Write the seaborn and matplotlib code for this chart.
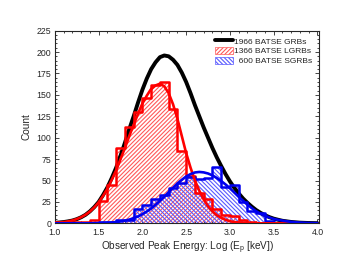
import numpy as np
import pandas as pd
import matplotlib
matplotlib.use("Agg")
import matplotlib.pyplot as plt
from matplotlib.lines import Line2D
from matplotlib.patches import Patch
from matplotlib.ticker import MultipleLocator, FormatStrFormatter
import seaborn as sns

# ---------------- data ----------------
bin_width = 0.1
red_start = 1.0
red_counts = [2, 1, 2, 1, 4, 26, 45, 88, 113, 130, 146, 161, 165, 133, 84, 55, 36, 28, 17, 10, 8, 4, 1]
blue_start = 1.5
blue_counts = [1, 1, 4, 4, 17, 22, 29, 33, 41, 47, 54, 52, 53, 66, 43, 45, 25, 14, 12, 3]

curve_x = [1.0, 1.05, 1.1, 1.15, 1.2, 1.25, 1.3, 1.35, 1.4, 1.45, 1.5, 1.55, 1.6, 1.65, 1.7,
           1.75, 1.8, 1.85, 1.9, 1.95, 2.0, 2.05, 2.1, 2.15, 2.2, 2.25, 2.3, 2.35, 2.4, 2.45,
           2.5, 2.55, 2.6, 2.65, 2.7, 2.75, 2.8, 2.85, 2.9, 2.95, 3.0, 3.05, 3.1, 3.15, 3.2,
           3.25, 3.3, 3.35, 3.4, 3.45, 3.5, 3.55, 3.6, 3.7, 3.8, 3.9, 4.0]
all_fit = [0.6, 1.0, 1.5, 2.3, 3.3, 4.9, 7.1, 10, 14, 19, 25, 33, 42, 53, 65,
           79, 94, 110, 125, 141, 156, 169, 180, 188, 194, 196, 195, 191, 185, 176,
           165, 152, 138, 125, 112, 100, 88, 77, 67, 57.5, 49, 41.5, 35, 29, 24,
           19.5, 15.5, 12.3, 9.5, 7.3, 5.5, 4.2, 3.0, 1.6, 0.8, 0.4, 0.2]
red_fit = [0.6, 1.0, 1.5, 2.3, 3.4, 5.0, 7.2, 10.1, 13.8, 18.6, 24.6, 32, 40.6, 51, 62,
           75, 88, 102, 115, 128, 140, 149, 157, 161, 163, 160, 152, 139, 122, 102,
           82, 65, 50, 38, 28, 20, 14, 9.5, 6.5, 4.2, 2.5, 1.6, 1.0, 0.6, 0.3,
           0.2, 0.1, 0, 0, 0, 0, 0, 0, 0, 0, 0, 0]
blue_fit = [0, 0, 0, 0, 0, 0, 0, 0, 0.1, 0.2, 0.3, 0.5, 0.7, 1.0, 1.5,
            2.2, 3.1, 4.4, 6.0, 8.1, 10.7, 13.8, 17.4, 21.6, 26.3, 31, 36.4, 41.5, 46.5, 50.8,
            54.7, 57.5, 59.4, 60, 59.5, 58.2, 56, 53, 49.4, 45.4, 41, 36, 31, 26.4, 22,
            17.8, 14, 11.3, 9, 6.9, 5.2, 4.1, 3.2, 1.7, 0.9, 0.4, 0.2]

legend_labels = ["1966 BATSE GRBs", "1366 BATSE LGRBs", "  600 BATSE SGRBs"]

# ---------------- derived tables ----------------
red_edges = [float(v) for v in red_start + bin_width * np.arange(len(red_counts) + 1)]
red_df = pd.DataFrame({"x": np.array(red_edges[:-1]) + bin_width / 2, "w": red_counts})
blue_edges = [float(v) for v in blue_start + bin_width * np.arange(len(blue_counts) + 1)]
blue_df = pd.DataFrame({"x": np.array(blue_edges[:-1]) + bin_width / 2, "w": blue_counts})
curves = pd.DataFrame({"x": curve_x, "all": all_fit, "red": red_fit, "blue": blue_fit})

# ---------------- plot ----------------
sns.set_style("ticks")
plt.rcParams["font.family"] = ["Liberation Sans", "DejaVu Sans"]
plt.rcParams["hatch.linewidth"] = 0.8

fig = plt.figure(figsize=(3.41, 2.64), dpi=100)
ax = fig.add_axes([0.161, 0.154, 0.775, 0.730])

RED = "#ff0000"
BLUE = "#0000ee"
RED_H = (1, 0.35, 0.35)
BLUE_H = (0.35, 0.35, 1)
RED_HATCH = "////////"
BLUE_HATCH = "\\\\\\\\\\\\\\\\"

# black overall fit
sns.lineplot(data=curves, x="x", y="all", color="black", lw=2.8, ax=ax, sort=False, zorder=2)

# hatched fills
n0 = len(ax.collections)
sns.histplot(data=red_df, x="x", weights="w", bins=red_edges, element="step", fill=True,
             ax=ax, color=RED, alpha=1, lw=0)
sns.histplot(data=blue_df, x="x", weights="w", bins=blue_edges, element="step", fill=True,
             ax=ax, color=BLUE, alpha=1, lw=0)
fills = ax.collections[n0:]
for coll, col, hatch in zip(fills, [RED_H, BLUE_H], [RED_HATCH, BLUE_HATCH]):
    coll.set_facecolor("none")
    coll.set_edgecolor(col)
    coll.set_hatch(hatch)
    coll.set_linewidth(0)
    coll.set_zorder(1)

# step outlines
sns.histplot(data=red_df, x="x", weights="w", bins=red_edges, element="step", fill=False,
             ax=ax, color=RED, lw=1.8, zorder=3)
sns.histplot(data=blue_df, x="x", weights="w", bins=blue_edges, element="step", fill=False,
             ax=ax, color=BLUE, lw=1.8, zorder=3)

# component fits
sns.lineplot(data=curves, x="x", y="red", color=RED, lw=1.9, ax=ax, sort=False, zorder=4)
sns.lineplot(data=curves, x="x", y="blue", color=BLUE, lw=1.9, ax=ax, sort=False, zorder=4)

ax.set_xlim(1.0, 4.02)
ax.set_ylim(0, 225)
ax.xaxis.set_major_locator(MultipleLocator(0.5))
ax.xaxis.set_minor_locator(MultipleLocator(0.1))
ax.yaxis.set_major_locator(MultipleLocator(25))
ax.yaxis.set_minor_locator(MultipleLocator(5))
ax.tick_params(which="both", direction="in", top=True, right=True, labelsize=6.3,
               width=0.6)
ax.tick_params(axis="x", pad=3.5)
ax.tick_params(axis="y", pad=2.5)
ax.tick_params(which="major", length=3)
ax.tick_params(which="minor", length=1.5)
ax.xaxis.set_major_formatter(FormatStrFormatter("%.1f"))
for s in ax.spines.values():
    s.set_linewidth(0.8)

ax.set_xlabel("Observed Peak Energy: Log (E$_\\mathregular{p}$ [keV])", fontsize=7.2, labelpad=2)
ax.set_ylabel("Count", fontsize=7.2, labelpad=4)

handles = [
    Line2D([0], [0], color="black", lw=2.8),
    Patch(facecolor="white", edgecolor=RED_H, hatch=RED_HATCH, lw=0.5),
    Patch(facecolor="white", edgecolor=BLUE_H, hatch=BLUE_HATCH, lw=0.5),
]
leg = ax.legend(handles, legend_labels, loc="upper left", frameon=False, fontsize=6,
                handlelength=2.2, handleheight=0.85, handletextpad=0.1, labelspacing=0.2,
                borderpad=0, borderaxespad=0, bbox_to_anchor=(0.606, 0.965))

fig.savefig("out.png", dpi=100)
